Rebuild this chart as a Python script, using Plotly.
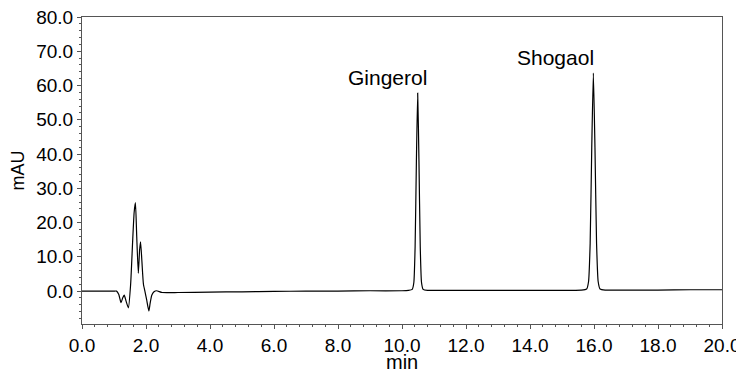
import plotly.graph_objects as go

# Chromatogram trace (time in min, absorbance in mAU)
time_min = [0.0, 0.5, 1.0, 1.08, 1.15, 1.22, 1.27, 1.32, 1.38, 1.45, 1.52, 1.58, 1.63, 1.67,
            1.71, 1.76, 1.80, 1.83, 1.87, 1.92, 1.97, 2.02, 2.09, 2.13, 2.18, 2.25, 2.33,
            2.5, 3.0, 4.0, 5.0, 6.0, 7.0, 8.0, 9.0, 10.0, 10.2, 10.32, 10.37, 10.41, 10.45,
            10.49, 10.53, 10.57, 10.61, 10.66, 10.8, 11.0, 12.0, 13.0, 14.0, 15.0, 15.6,
            15.77, 15.83, 15.88, 15.93, 15.98, 16.03, 16.08, 16.13, 16.19, 16.35, 17.0,
            18.0, 19.0, 20.0]
absorbance = [0.0, 0.0, 0.0, 0.0, -1.0, -3.4, -2.0, -1.2, -3.0, -4.9, 2.0, 14.0, 23.0, 25.8,
              16.0, 5.2, 12.0, 14.4, 9.0, 2.0, -0.2, -2.5, -5.8, -3.5, -1.2, -0.2, 0.1,
              -0.4, -0.4, -0.3, -0.2, -0.1, 0.0, 0.0, 0.1, 0.1, 0.2, 0.5, 2.5, 13.0, 38.0,
              57.8, 38.0, 13.0, 2.5, 0.5, 0.2, 0.2, 0.2, 0.2, 0.2, 0.2, 0.3,
              0.6, 2.8, 14.0, 42.0, 63.6, 42.0, 14.0, 2.8, 0.6, 0.3, 0.3,
              0.3, 0.4, 0.4]

peak_names = ["Gingerol", "Shogaol"]
label_x = [9.56, 14.81]
label_y = [62.2, 68.3]

x_ticks = [0, 2, 4, 6, 8, 10, 12, 14, 16, 18, 20]
y_ticks = [0, 10, 20, 30, 40, 50, 60, 70, 80]

FONT = "Liberation Sans, Arial, sans-serif"

fig = go.Figure()
fig.add_trace(go.Scatter(x=time_min, y=absorbance, mode="lines",
                         line=dict(color="black", width=1.2, shape="spline", smoothing=0.5),
                         hoverinfo="skip", showlegend=False))

for name, lx, ly in zip(peak_names, label_x, label_y):
    fig.add_annotation(x=lx, y=ly, text=name, showarrow=False,
                       font=dict(family=FONT, size=21, color="black"))

# x-axis title placed as an annotation below the tick labels
fig.add_annotation(x=0.5, y=-0.125, xref="paper", yref="paper", text="min",
                   showarrow=False, xanchor="center", yanchor="middle",
                   font=dict(family=FONT, size=20, color="black"))

axis_common = dict(showline=True, linecolor="#555", linewidth=1, mirror=True,
                   ticks="outside", ticklen=4, tickcolor="#555", tickwidth=1,
                   showgrid=False, zeroline=False, tickformat=".1f", automargin=False,
                   ticklabeloverflow="allow",
                   tickfont=dict(family=FONT, size=19, color="black"))

# the page body has an 8px margin, so the figure is sized to fit the 744x376 window
fig.update_layout(
    width=736, height=368,
    margin=dict(l=74, r=22, t=9, b=52),
    paper_bgcolor="white", plot_bgcolor="white",
    xaxis=dict(range=[0, 20], tickvals=x_ticks,
               minor=dict(dtick=0.4, ticklen=2, tickcolor="#555", ticks="outside"),
               **axis_common),
    yaxis=dict(range=[-9.6, 80], tickvals=y_ticks,
               minor=dict(dtick=2, ticklen=2, tickcolor="#555", ticks="outside"),
               title=dict(text="mAU", font=dict(family=FONT, size=18, color="black"), standoff=8),
               **axis_common),
)

fig.write_html("out.html")
